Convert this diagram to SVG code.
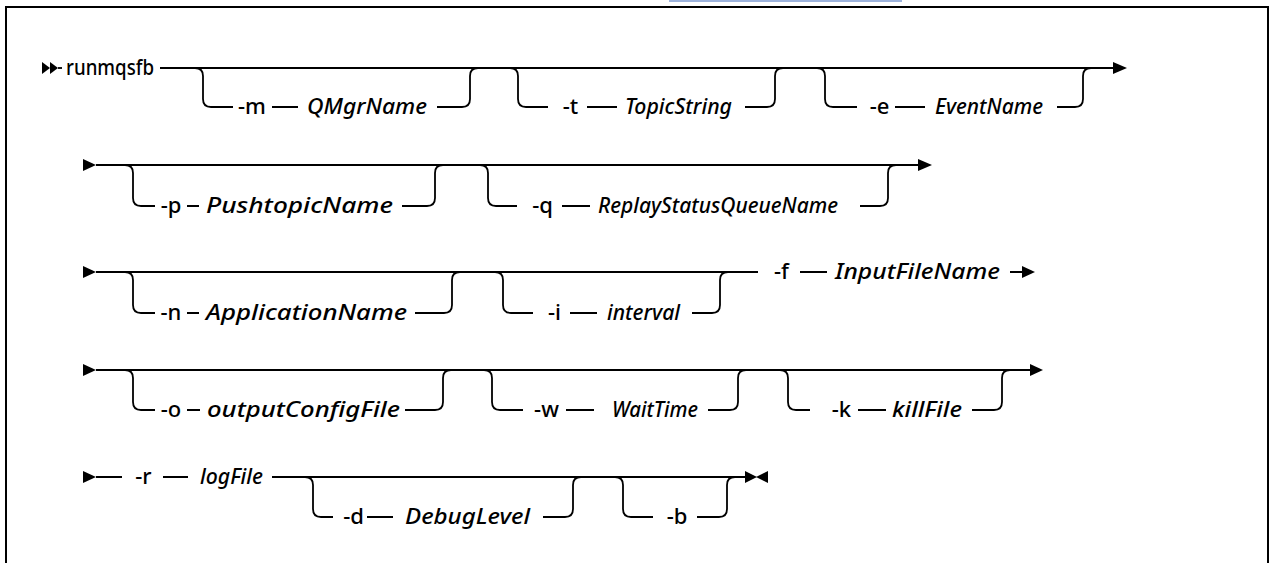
<svg xmlns="http://www.w3.org/2000/svg" width="1274" height="563" viewBox="0 0 1274 563">
<style>
.ln{fill:none;stroke:#000;stroke-width:1.8}
.t{font-family:"Noto Sans","Liberation Sans",sans-serif;font-size:22px;font-weight:500;fill:#000}
.f{text-anchor:middle}
.v{font-style:italic}
.ah{fill:#000}
</style>
<rect x="0" y="0" width="1274" height="563" fill="#fff"/>
<rect x="669" y="-2" width="233" height="4" fill="#9db3dc"/>
<rect x="6" y="7" width="1262" height="600" fill="none" stroke="#000" stroke-width="2"/>
<g id="connectors">
<!-- row 1 -->
<polygon class="ah" points="42,62 50,68 42,74"/>
<polygon class="ah" points="50,62 58,68 50,74"/>
<path class="ln" d="M58 68H62"/>
<path class="ln" d="M160 68H1114"/>
<polygon class="ah" points="1113,62 1127,68 1113,74"/>
<path class="ln" d="M195 68Q203 68 203 76V99Q203 107 211 107H233M272 107H298M437 107H462Q470 107 470 99V76Q470 68 478 68"/>
<path class="ln" d="M510 68Q518 68 518 76V99Q518 107 526 107H548M587 107H617M745 107H767Q775 107 775 99V76Q775 68 783 68"/>
<path class="ln" d="M817 68Q825 68 825 76V99Q825 107 833 107H857M895 107H925M1057 107H1075Q1083 107 1083 99V76Q1083 68 1091 68"/>
<!-- row 2 -->
<polygon class="ah" points="83,159 96,165 83,171"/>
<path class="ln" d="M96 165H918"/>
<polygon class="ah" points="918,159 932,165 918,171"/>
<path class="ln" d="M125 165Q133 165 133 173V198Q133 206 141 206H155M187 206H199M402 206H427Q435 206 435 198V173Q435 165 443 165"/>
<path class="ln" d="M480 165Q488 165 488 173V198Q488 206 496 206H517M562 206H590M860 206H880Q888 206 888 198V173Q888 165 896 165"/>
<!-- row 3 -->
<polygon class="ah" points="83,266 96,272 83,278"/>
<path class="ln" d="M96 272H758"/>
<path class="ln" d="M125 272Q133 272 133 280V305Q133 313 141 313H155M187 313H199M415 313H444Q452 313 452 305V280Q452 272 460 272"/>
<path class="ln" d="M495 272Q503 272 503 280V305Q503 313 511 313H533M570 313H597M692 313H712Q720 313 720 305V280Q720 272 728 272"/>
<path class="ln" d="M800 272H827M1010 272H1022"/>
<polygon class="ah" points="1022,266 1035,272 1022,278"/>
<!-- row 4 -->
<polygon class="ah" points="83,364 96,370 83,376"/>
<path class="ln" d="M96 370H1030"/>
<polygon class="ah" points="1030,364 1043,370 1030,376"/>
<path class="ln" d="M125 370Q133 370 133 378V402Q133 410 141 410H155M187 410H200M405 410H435Q443 410 443 402V378Q443 370 451 370"/>
<path class="ln" d="M484 370Q492 370 492 378V402Q492 410 500 410H523M566 410H594M708 410H730Q738 410 738 402V378Q738 370 746 370"/>
<path class="ln" d="M780 370Q788 370 788 378V402Q788 410 796 410H810M858 410H886M972 410H994Q1002 410 1002 402V378Q1002 370 1010 370"/>
<!-- row 5 -->
<polygon class="ah" points="83,471 96,477 83,483"/>
<path class="ln" d="M96 477H122M163 477H188M272 477H745"/>
<path class="ln" d="M305 477Q313 477 313 485V509Q313 517 321 517H333M367 517H393M543 517H565Q573 517 573 509V485Q573 477 581 477"/>
<path class="ln" d="M615 477Q623 477 623 485V509Q623 517 631 517H653M697 517H719Q727 517 727 509V485Q727 477 735 477"/>
<polygon class="ah" points="745,471 757,477 745,483"/>
<polygon class="ah" points="768,471 756,477 768,483"/>
</g>
<g id="n-runmqsfb"><text class="t" x="66" y="75" textLength="88" lengthAdjust="spacingAndGlyphs">runmqsfb</text></g>
<g id="n-m"><text class="t f" x="252" y="114">-m</text><text class="t v" x="307" y="114" textLength="120" lengthAdjust="spacingAndGlyphs">QMgrName</text></g>
<g id="n-t"><text class="t f" x="570.5" y="114">-t</text><text class="t v" x="625" y="114" textLength="107" lengthAdjust="spacingAndGlyphs">TopicString</text></g>
<g id="n-e"><text class="t f" x="879.5" y="114">-e</text><text class="t v" x="935" y="114" textLength="108" lengthAdjust="spacingAndGlyphs">EventName</text></g>
<g id="n-p"><text class="t f" x="171" y="213">-p</text><text class="t v" x="206" y="213" textLength="187" lengthAdjust="spacingAndGlyphs">PushtopicName</text></g>
<g id="n-q"><text class="t f" x="542.5" y="213">-q</text><text class="t v" x="598" y="213" textLength="240" lengthAdjust="spacingAndGlyphs">ReplayStatusQueueName</text></g>
<g id="n-n"><text class="t f" x="171" y="320">-n</text><text class="t v" x="206" y="320" textLength="201" lengthAdjust="spacingAndGlyphs">ApplicationName</text></g>
<g id="n-i"><text class="t f" x="554.5" y="320">-i</text><text class="t v" x="607" y="320" textLength="73" lengthAdjust="spacingAndGlyphs">interval</text></g>
<g id="n-f"><text class="t f" x="781.5" y="279">-f</text><text class="t v" x="835" y="279" textLength="165" lengthAdjust="spacingAndGlyphs">InputFileName</text></g>
<g id="n-o"><text class="t f" x="171" y="417">-o</text><text class="t v" x="207" y="417" textLength="193" lengthAdjust="spacingAndGlyphs">outputConfigFile</text></g>
<g id="n-w"><text class="t f" x="546.5" y="417">-w</text><text class="t v" x="612" y="417" textLength="86" lengthAdjust="spacingAndGlyphs">WaitTime</text></g>
<g id="n-k"><text class="t f" x="841.5" y="417">-k</text><text class="t v" x="892" y="417" textLength="70" lengthAdjust="spacingAndGlyphs">killFile</text></g>
<g id="n-r"><text class="t f" x="143.5" y="484">-r</text><text class="t v" x="200" y="484" textLength="63" lengthAdjust="spacingAndGlyphs">logFile</text></g>
<g id="n-d"><text class="t f" x="353.5" y="524">-d</text><text class="t v" x="405" y="524" textLength="125" lengthAdjust="spacingAndGlyphs">DebugLevel</text></g>
<g id="n-b"><text class="t f" x="677" y="524">-b</text></g>
</svg>
